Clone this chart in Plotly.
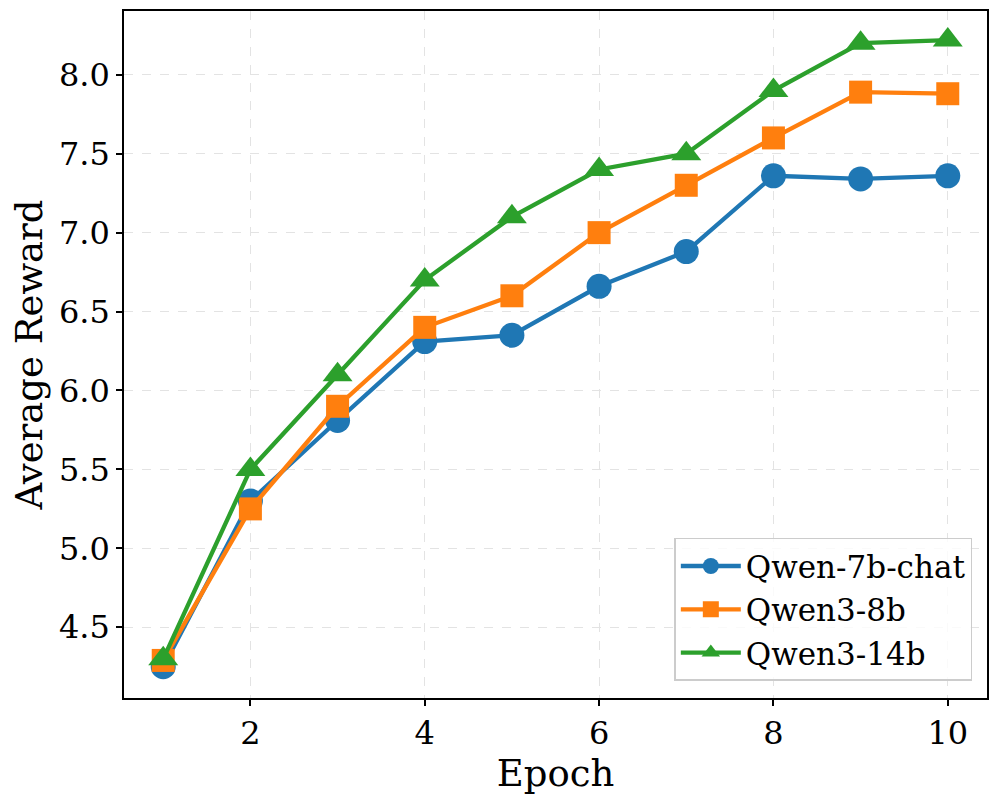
import plotly.graph_objects as go

epochs = [1, 2, 3, 4, 5, 6, 7, 8, 9, 10]
qwen7b_chat = [4.25, 5.30, 5.81, 6.31, 6.35, 6.66, 6.88, 7.36, 7.34, 7.36]
qwen3_8b = [4.29, 5.25, 5.90, 6.40, 6.60, 7.00, 7.30, 7.60, 7.89, 7.88]
qwen3_14b = [4.30, 5.50, 6.10, 6.70, 7.10, 7.40, 7.50, 7.90, 8.20, 8.22]

series = [
    ("Qwen-7b-chat", qwen7b_chat, "#1f77b4", "circle", 25),
    ("Qwen3-8b", qwen3_8b, "#ff7f0e", "square", 23),
    ("Qwen3-14b", qwen3_14b, "#2ca02c", "triangle-up", 26),
]

fig = go.Figure()
for name, ys, color, sym, size in series:
    fig.add_trace(go.Scatter(
        x=epochs, y=ys, name=name, mode="lines+markers",
        line=dict(color=color, width=4.3),
        marker=dict(symbol=sym, size=size, color=color, line=dict(width=0)),
    ))

font = "DejaVu Serif"
fig.update_layout(
    width=998, height=804,
    margin=dict(l=116, r=19, t=1, b=114),
    paper_bgcolor="white", plot_bgcolor="white",
    font=dict(family=font, size=32, color="black"),
    showlegend=True,
    legend=dict(
        x=0.983, y=0.025, xanchor="right", yanchor="bottom",
        bgcolor="rgba(255,255,255,0.8)", bordercolor="#cccccc", borderwidth=1.5,
        font=dict(family=font, size=31), itemwidth=60, tracegroupgap=4,
    ),
)
fig.update_xaxes(
    range=[0.55, 10.45], tickvals=[2, 4, 6, 8, 10],
    title=dict(text="Epoch", font=dict(family=font, size=37), standoff=8),
    showline=True, linecolor="black", linewidth=1.5, mirror=True,
    ticks="outside", ticklen=6, tickwidth=1.5, tickcolor="black",
    showgrid=True, gridcolor="#e3e3e3", griddash="dash", gridwidth=1.2,
    zeroline=False,
)
fig.update_yaxes(
    range=[4.052, 8.404], tickvals=[4.5, 5.0, 5.5, 6.0, 6.5, 7.0, 7.5, 8.0],
    ticktext=["4.5", "5.0", "5.5", "6.0", "6.5", "7.0", "7.5", "8.0"],
    title=dict(text="Average Reward", font=dict(family=font, size=37), standoff=10),
    showline=True, linecolor="black", linewidth=1.5, mirror=True,
    ticks="outside", ticklen=6, tickwidth=1.5, tickcolor="black",
    showgrid=True, gridcolor="#e3e3e3", griddash="dash", gridwidth=1.2,
    zeroline=False,
)

fig.write_html("out.html")
